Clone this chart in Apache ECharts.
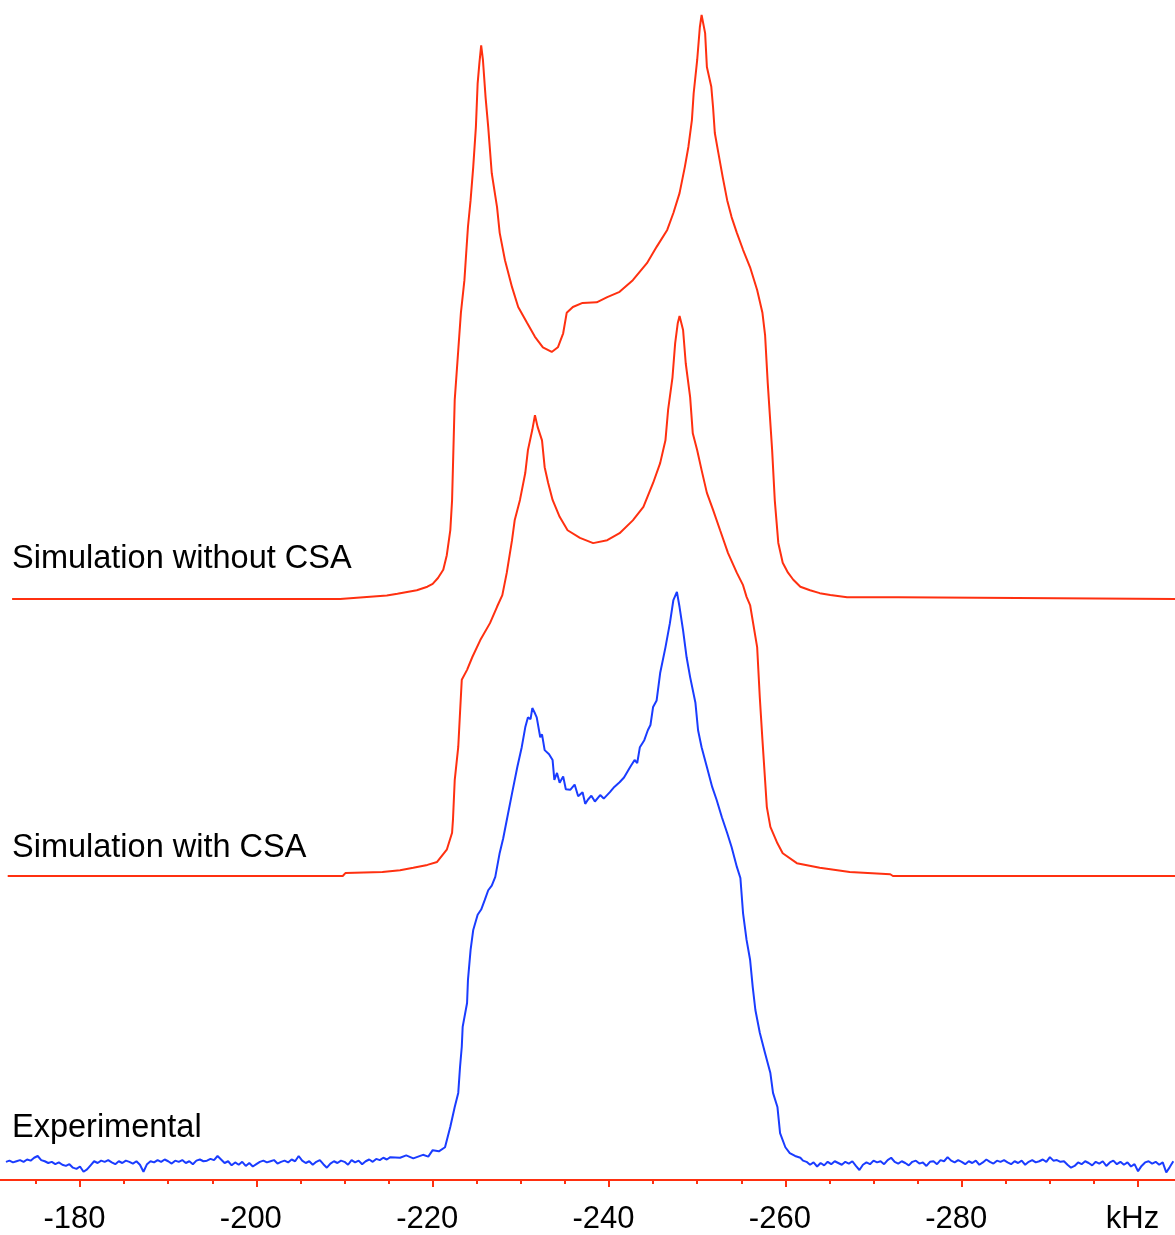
<!DOCTYPE html>
<html>
<head>
<meta charset="utf-8">
<script src="https://cdn.jsdelivr.net/npm/echarts@6/dist/echarts.min.js"></script>
<style>
  html, body { margin: 0; padding: 0; background: #ffffff; }
  #chart { width: 1175px; height: 1235px; }
</style>
</head>
<body>
<div id="chart"></div>
<script>
// ---- Frequency axis (kHz), drawn reversed: high frequency on the left ----
const axisMin = -320;
const axisMax = -160;
const axisStep = 20;
const unitLabel = 'kHz';
const unitLabelAt = -300;

// ---- Trace names ----
const nameNoCsa = 'Simulation without CSA';
const nameCsa = 'Simulation with CSA';
const nameExp = 'Experimental';

// ---- Simulated spectrum without CSA: [kHz, intensity] ----
const simNoCsa = [
  [-172.3, 0], [-209.5, 0], [-209.7, 0.3], [-214.8, 0.6], [-216.0, 0.9], [-218.2, 1.5],
  [-219.4, 2.1], [-220.0, 2.6], [-220.6, 3.6], [-221.2, 5.0], [-221.6, 7.5], [-222.0, 11.8],
  [-222.2, 16.9], [-222.5, 34.1], [-222.9, 42.6], [-223.2, 49.0], [-223.6, 54.6], [-223.8, 59.2],
  [-224.0, 63.7], [-224.3, 68.3], [-224.6, 74.0], [-224.9, 80.8], [-225.1, 88.3], [-225.3, 91.8],
  [-225.5, 94.8], [-225.7, 92.3], [-226.0, 85.9], [-226.3, 80.8], [-226.7, 72.9], [-227.3, 67.1],
  [-227.6, 62.7], [-228.2, 58.0], [-229.0, 53.4], [-229.7, 50.0], [-230.7, 47.3], [-231.6, 44.9],
  [-232.5, 43.1], [-233.5, 42.3], [-234.2, 43.1], [-234.8, 45.5], [-235.2, 49.0], [-235.9, 50.0],
  [-237.0, 50.7], [-238.6, 50.8], [-239.8, 51.7], [-241.2, 52.6], [-242.7, 54.6], [-244.3, 57.5],
  [-245.4, 60.3], [-246.6, 63.2], [-247.3, 66.1], [-248.0, 69.5], [-248.6, 74.0], [-249.0, 77.4],
  [-249.4, 82.0], [-249.6, 86.6], [-250.0, 92.3], [-250.3, 97.9], [-250.5, 100], [-250.9, 96.9],
  [-251.1, 91.1], [-251.6, 87.7], [-251.8, 84.2], [-252.0, 79.8], [-252.4, 76.4], [-252.9, 72.2],
  [-253.4, 68.3], [-253.9, 65.4], [-254.5, 62.7], [-255.2, 59.8], [-256.0, 56.8], [-256.8, 52.9],
  [-257.4, 49.0], [-257.7, 45.2], [-258.0, 37.0], [-258.5, 25.5], [-258.8, 16.9], [-259.2, 9.6],
  [-259.7, 6.2], [-260.3, 4.5], [-260.9, 3.3], [-261.7, 2.1], [-262.8, 1.5], [-263.9, 1.0],
  [-265.1, 0.7], [-267.0, 0.3], [-272.8, 0.3], [-273.0, 0], [-304.2, 0]
];

// ---- Simulated spectrum with CSA: [kHz, intensity] ----
const simCsa = [
  [-171.8, 0], [-209.8, 0], [-210.1, 0.5], [-214.3, 0.7], [-216.3, 1.0], [-217.8, 1.4],
  [-219.4, 1.9], [-220.5, 2.4], [-221.6, 4.5], [-222.2, 7.4], [-222.3, 9.6], [-222.5, 16.4],
  [-222.9, 22.1], [-223.1, 27.9], [-223.3, 33.6], [-223.9, 35.3], [-224.5, 37.5], [-225.4, 40.4],
  [-226.5, 43.3], [-227.3, 46.1], [-227.9, 48.1], [-228.4, 51.9], [-229.0, 57.5], [-229.3, 60.9],
  [-229.9, 64.4], [-230.5, 69.0], [-230.8, 72.9], [-231.3, 76.4], [-231.6, 78.9], [-231.9, 76.9],
  [-232.4, 74.6], [-232.7, 70.0], [-233.1, 67.3], [-233.6, 64.4], [-234.4, 61.5], [-235.3, 59.2],
  [-236.7, 57.9], [-238.2, 57.0], [-239.8, 57.5], [-241.2, 58.7], [-242.7, 60.9], [-243.9, 63.2],
  [-245.0, 67.3], [-245.8, 70.7], [-246.4, 74.6], [-246.7, 79.8], [-247.2, 85.4], [-247.5, 91.2],
  [-247.8, 94.7], [-248.0, 95.9], [-248.4, 93.5], [-248.7, 87.8], [-249.2, 82.0], [-249.5, 75.8],
  [-250.0, 72.9], [-250.5, 69.5], [-251.1, 65.6], [-251.8, 62.7], [-252.6, 59.2], [-253.5, 55.3],
  [-254.5, 51.9], [-255.2, 49.8], [-255.6, 47.8], [-256.0, 46.4], [-256.8, 39.2], [-257.1, 30.6],
  [-257.4, 23.3], [-257.7, 16.4], [-257.9, 11.8], [-258.3, 8.4], [-259.1, 5.6], [-259.7, 3.9],
  [-261.3, 2.2], [-263.9, 1.4], [-267.3, 0.7], [-271.9, 0.3], [-272.2, 0], [-304.2, 0]
];

// ---- Experimental spectrum ----
// Baseline stretches are sampled every 0.4 kHz from their start frequency.
const expSampleStep = 0.4;
const expBaseLeftStart = -171.6;
const expBaseLeft = [
  0.2, 0.4, 0.1, 0.3, 0.5, 0.2, 0.6, 0.4, 0.9, 1.2,
  0.5, 0.3, 0.0, 0.2, -0.2, 0.1, -0.3, -0.5, -0.2, -0.8,
  -1.0, -0.6, -1.5, -1.1, -0.4, 0.3, 0.0, 0.4, 0.2, 0.5,
  0.1, -0.2, 0.3, 0.0, 0.4, 0.2, -0.1, 0.3, -0.3, -1.5,
  -0.2, 0.3, 0.1, 0.5, 0.2, 0.6, 0.3, -0.1, 0.4, 0.2,
  0.5, 0.0, 0.3, -0.2, 0.4, 0.6, 0.3, 0.4, 0.7, 0.5,
  1.2, 0.6, 0.0, 0.3, -0.4, 0.1, -0.3, 0.2, -0.5, 0.0,
  -0.6, -0.2, 0.2, 0.4, 0.1, 0.3, 0.5, -0.1, 0.2, 0.4,
  0.1, 0.6, 0.3, 1.2, 0.4, 0.0, 0.3, -0.3, 0.2, 0.5,
  -0.2, -0.8, -0.1, 0.3, 0.0, 0.4, 0.2, -0.3, 0.5, 0.1,
  0.4, -0.2, 0.3, 0.6, 0.2, 0.7, 0.5, 0.9, 0.6, 1.0
];
// Line shape between the two baselines: [kHz, intensity]
const expLine = [
  [-216.3, 0.9], [-217.0, 1.3], [-217.8, 0.8], [-218.9, 1.4], [-219.5, 1.1], [-220.0, 2.2],
  [-220.7, 2.0], [-221.4, 2.7], [-222.0, 6.2], [-222.5, 9.6], [-222.9, 12.0], [-223.1, 16.4],
  [-223.3, 19.9], [-223.4, 23.3], [-223.9, 27.4], [-224.0, 31.3], [-224.3, 36.5], [-224.6, 39.9],
  [-225.1, 42.5], [-225.5, 43.4], [-225.9, 45.0], [-226.3, 46.7], [-226.7, 47.5], [-227.1, 49.0],
  [-227.6, 53.1], [-228.0, 55.6], [-228.4, 58.7], [-229.0, 63.3], [-229.6, 67.8], [-230.1, 71.2],
  [-230.5, 74.6], [-230.8, 76.3], [-231.1, 76.0], [-231.3, 77.9], [-231.6, 77.0], [-231.8, 76.3],
  [-232.2, 72.9], [-232.4, 73.4], [-232.7, 70.7], [-233.2, 70.0], [-233.6, 69.0], [-233.8, 65.6],
  [-234.1, 66.8], [-234.4, 65.1], [-234.8, 66.2], [-235.1, 64.0], [-235.6, 63.9], [-236.1, 64.8],
  [-236.5, 62.8], [-237.0, 63.5], [-237.3, 61.5], [-237.6, 62.2], [-238.0, 62.9], [-238.4, 61.9],
  [-239.0, 63.0], [-239.4, 62.4], [-240.1, 63.5], [-240.6, 64.4], [-241.2, 65.2], [-241.7, 66.0],
  [-242.4, 67.8], [-242.9, 69.0], [-243.2, 68.5], [-243.5, 71.2], [-244.0, 72.4], [-244.4, 74.1],
  [-244.7, 75.0], [-245.0, 78.1], [-245.4, 79.2], [-245.8, 83.9], [-246.4, 88.3], [-246.9, 92.4],
  [-247.3, 96.4], [-247.7, 97.8], [-248.0, 95.2], [-248.4, 91.2], [-248.8, 86.6], [-249.2, 83.2],
  [-249.8, 78.8], [-250.1, 74.1], [-250.5, 71.2], [-251.1, 67.8], [-251.7, 64.4], [-252.2, 62.2],
  [-252.8, 59.2], [-253.4, 56.5], [-253.9, 54.1], [-254.5, 50.7], [-254.9, 48.8], [-255.2, 42.8],
  [-255.6, 38.2], [-256.0, 34.8], [-256.3, 30.1], [-256.6, 26.2], [-257.1, 22.3], [-257.7, 18.8],
  [-258.3, 15.4], [-258.6, 12.0], [-259.1, 9.6], [-259.4, 5.1], [-260.0, 2.7], [-260.5, 1.7],
  [-261.1, 1.2], [-261.7, 0.9], [-262.0, 0.4]
];
const expBaseRightStart = -262.4;
const expBaseRight = [
  0.2, -0.3, 0.1, -0.6, 0.0, -0.4, 0.2, -0.2, 0.3, 0.0,
  -0.3, 0.2, -0.1, 0.3, -0.5, -1.2, -0.3, 0.1, -0.2, 0.4,
  0.1, 0.3, -0.2, 0.5, 0.9, 0.2, -0.1, 0.3, 0.0, -0.4,
  0.2, 0.4, -0.1, 0.1, -0.5, 0.2, 0.3, -0.2, 0.5, 0.3,
  1.0, 0.4, 0.1, 0.5, 0.2, -0.2, 0.3, 0.0, 0.4, -0.3,
  0.1, 0.6, 0.2, -0.1, 0.4, 0.2, 0.5, 0.1, -0.2, 0.3,
  0.0, 0.4, -0.3, 0.2, 0.5, 0.1, 0.3, 0.6, 0.2, 1.0,
  0.4, 0.5, 0.2, 0.3, -0.3, -0.8, -0.5, 0.1, -0.2, 0.3,
  0.0, -0.4, 0.2, -0.1, 0.3, -0.5, 0.1, 0.4, -0.2, 0.2,
  -0.3, 0.1, -0.6, -0.2, -1.4, -0.5, 0.1, 0.3, -0.1, 0.2,
  -0.3, 0.1, -1.6, -0.7, 0.3
];

// ---- Build the experimental series from its pieces ----
function sampled(start, values) {
  return values.map((v, i) => [+(start - i * expSampleStep).toFixed(2), v]);
}
const expData = sampled(expBaseLeftStart, expBaseLeft)
  .concat(expLine)
  .concat(sampled(expBaseRightStart, expBaseRight));

// ---- Styling ----
const RED = '#ff3010';
const BLUE = '#1a3cff';
const FONT = '"Liberation Sans", Arial, Helvetica, sans-serif';
const PX_PER_KHZ = 8.817;
const X_AT_M180 = 80;          // pixel position of -180 kHz
const gridLeft = X_AT_M180 - (axisMax - (-180)) * PX_PER_KHZ;
const gridRightEdge = X_AT_M180 + (-180 - axisMin) * PX_PER_KHZ;
const W = 1175;

function grid(top, height) {
  return {
    left: gridLeft, right: W - gridRightEdge, top: top, height: height,
    containLabel: false, outerBoundsMode: 'none'
  };
}

function xAx(gridIndex, visible) {
  return {
    type: 'value', gridIndex: gridIndex, min: axisMin, max: axisMax, interval: axisStep,
    inverse: true, show: visible,
    axisLine: { show: true, onZero: false, lineStyle: { color: RED, width: 2 } },
    axisTick: { show: true, length: 7, lineStyle: { color: RED, width: 2 } },
    minorTick: { show: true, splitNumber: 4, length: 4, lineStyle: { color: RED, width: 2 } },
    splitLine: { show: false },
    minorSplitLine: { show: false },
    axisLabel: {
      show: true, color: '#000', fontSize: 31, fontFamily: FONT, margin: 24,
      padding: [0, 11, 0, 0],
      formatter: v => (v === unitLabelAt ? unitLabel : String(v))
    }
  };
}

function yAx(gridIndex, min) {
  return { type: 'value', gridIndex: gridIndex, min: min, max: 100, show: false };
}

function line(name, idx, data, color) {
  return {
    name: name, type: 'line', xAxisIndex: idx, yAxisIndex: idx, data: data,
    showSymbol: false, symbol: 'none', clip: false, smooth: false,
    lineStyle: { color: color, width: 2 }, animation: false, silent: true
  };
}

function caption(text, y) {
  return {
    type: 'text', x: 12, y: y, silent: true,
    style: {
      text: text, fill: '#000', font: '32.5px ' + FONT,
      verticalAlign: 'middle', textVerticalAlign: 'middle'
    }
  };
}

const chart = echarts.init(document.getElementById('chart'), null, { renderer: 'canvas' });
chart.setOption({
  backgroundColor: '#ffffff',
  animation: false,
  grid: [grid(15, 584), grid(292, 584), grid(579, 601)],
  xAxis: [xAx(0, false), xAx(1, false), xAx(2, true)],
  yAxis: [yAx(0, 0), yAx(1, 0), yAx(2, -2.911)],
  series: [
    line(nameNoCsa, 0, simNoCsa, RED),
    line(nameCsa, 1, simCsa, RED),
    line(nameExp, 2, expData, BLUE)
  ],
  graphic: [
    caption(nameNoCsa, 559),
    caption(nameCsa, 848),
    caption(nameExp, 1128)
  ]
});
</script>
</body>
</html>
